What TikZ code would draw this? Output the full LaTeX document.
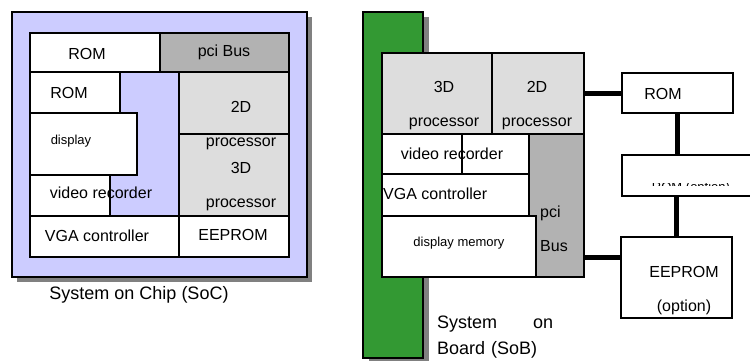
\documentclass[tikz,border=0pt]{standalone}
\usepackage{fontspec}
\setmainfont{Liberation Sans}
\usepackage{xcolor}
\usepackage{tikz}
\usetikzlibrary{positioning, calc}
\definecolor{socviolet}{RGB}{204,204,255}
\definecolor{boardgreen}{RGB}{51,153,51}
\definecolor{busgray}{RGB}{178,178,178}
\definecolor{procgray}{RGB}{221,221,221}
\definecolor{shadowgray}{RGB}{128,128,128}
\tikzset{
  unitbox/.style={rectangle, draw, line width=1.3pt, fill=white,
    inner sep=0pt, outer sep=0pt},
  procbox/.style={unitbox, fill=procgray},
  busbox/.style={unitbox, fill=busgray},
  lbl/.style={inner sep=0pt, align=center, font=\fontsize{16}{34}\selectfont},
  smalllbl/.style={inner sep=0pt, align=center, font=\fontsize{13}{16}\selectfont},
  caption/.style={inner sep=0pt, font=\fontsize{18}{26}\selectfont},
  link/.style={line width=5pt},
}
\newcommand{\boxat}[6][unitbox]{%
  \node[#1, anchor=north west, minimum width=#4-#2, minimum height=#5-#3]
    (#6) at (#2,#3) {};}
\begin{document}
\begin{tikzpicture}[x=1pt, y=-1pt]

  \useasboundingbox (0,0) rectangle (750,360);

  %% System on Chip
  \fill[shadowgray] (17,17) rectangle (312,282);
  \node[unitbox, fill=socviolet, anchor=north west, minimum width=295,
    minimum height=265] (soc) at (12,12) {};

  \boxat{30}{33}{160}{72}{socrom}
  \boxat[busbox]{160}{33}{289}{72}{socpci}
  \boxat{30}{72}{120}{113}{socrom2}
  \boxat{30}{113}{137}{175}{socdisp}
  \boxat{30}{175}{110}{216}{socvid}
  \boxat[procbox]{179}{134}{289}{216}{soc3d}
  \boxat[procbox]{179}{72}{289}{134}{soc2d}
  \boxat{30}{216}{179}{257}{socvga}
  \boxat{179}{216}{289}{257}{soceep}

  \node[lbl] (socromt) at (87,54) {ROM};
  \node[lbl] (socpcit) at (224,52) {pci Bus};
  \node[lbl] (socrom2t) at (69,93) {ROM};
  \node[smalllbl] (socdispt) at (71,141) {display};
  \node[lbl] (socvidt) at (101,193) {video recorder};
  \node[lbl] (soc2dt) at (241,126) {2D\\processor};
  \node[lbl] (soc3dt) at (241,186.5) {3D\\processor};
  \node[lbl] (socvgat) at (97,236) {VGA controller};
  \node[lbl] (soceept) at (233,235) {EEPROM};

  \node[caption] (soccap) at (139,295) {System on Chip (SoC)};

  %% System on Board
  \fill[shadowgray] (369,17) rectangle (429,363);
  \node[unitbox, fill=boardgreen, anchor=north west, minimum width=60,
    minimum height=346] (board) at (363,12) {};

  \boxat[procbox]{382}{53}{492}{134}{sob3d}
  \boxat[procbox]{492}{53}{584}{134}{sob2d}
  \boxat[busbox]{529}{134}{584}{277}{sobpci}
  \boxat{382}{134}{529}{174}{sobvid}
  \boxat{462}{134}{529}{174}{sobvidb}
  \boxat{382}{174}{529}{216}{sobvga}
  \boxat{382}{216}{536}{277}{sobdisp}

  \node[lbl] (sob3dt) at (444,105.5) {3D\\processor};
  \node[lbl] (sob2dt) at (537,105.5) {2D\\processor};
  \node[lbl] (sobvidt) at (452,154) {video recorder};
  \node[lbl, anchor=west] (sobvgat) at (383,194) {VGA controller};
  \node[smalllbl] (sobdispt) at (459,243) {display memory};
  \node[lbl, align=left, anchor=west] (sobpcit) at (540,229) {pci\\Bus};

  \node[caption, anchor=north west, text width=116pt, align=left]
    (sobcap) at (437,316) {System\hfill on\\Board (SoB)};

  %% external parts
  \boxat{622}{73}{733}{113}{extrom}
  \boxat{622}{155}{760}{196}{extopt}
  \boxat{621}{237}{732}{318}{exteep}

  \node[lbl] (extromt) at (663,94) {ROM};
  \begin{scope}
    \clip (623,183.2) rectangle (750,185.6);
    \node[smalllbl, anchor=north] (extoptt) at (691,182) {ROM (option)};
  \end{scope}
  \node[lbl, text depth=0pt] (exteept) at (684,289) {EEPROM\\(option)};

  \coordinate (pcitap) at (584,257);
  \draw[link] (sob2d.east) -- (sob2d.east -| extrom.west);
  \draw[link] (extrom.south) -- (extrom.south |- extopt.north);
  \draw[link] (exteep.north |- extopt.south) -- (exteep.north);
  \draw[link] (pcitap) -- (pcitap -| exteep.west);

\end{tikzpicture}
\end{document}
